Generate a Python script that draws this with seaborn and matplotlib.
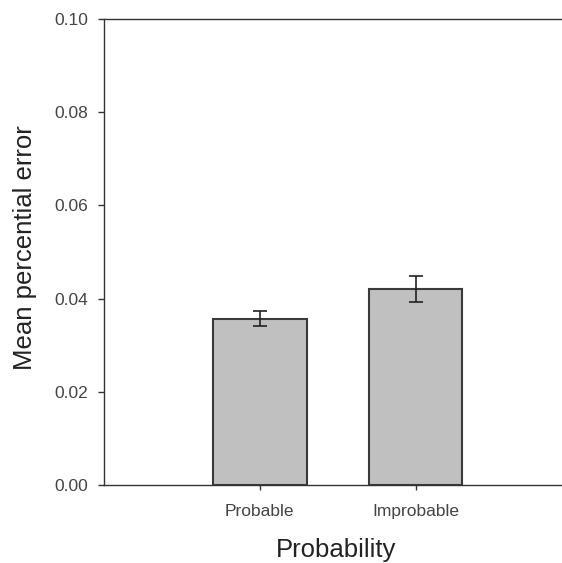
import pandas as pd
import seaborn as sns
import matplotlib.pyplot as plt

conditions = ['Probable', 'Improbable']
mean_error = [0.0357, 0.0421]
sem_error = [0.0016, 0.0028]

df = pd.DataFrame({'Probability': conditions, 'error': mean_error})

sns.set_style('white')
plt.rcParams['font.family'] = ['Liberation Sans', 'DejaVu Sans']

fig = plt.figure(figsize=(5.62, 5.63), dpi=100)
ax = fig.add_axes([104 / 562, 78 / 563, (562 - 104) / 562, (485 - 19) / 563])

sns.barplot(data=df, x='Probability', y='error', color='#c0c0c0',
            edgecolor='#3a3a3a', linewidth=1.5, width=0.6, errorbar=None,
            saturation=1, ax=ax)
ax.errorbar(range(len(conditions)), mean_error, yerr=sem_error, fmt='none',
            ecolor='#222222', elinewidth=1.2, capsize=5, capthick=1.2)

ax.set_xlim(-1, 1.94)
ax.set_ylim(0, 0.10)
ax.set_yticks([0.0, 0.02, 0.04, 0.06, 0.08, 0.10])
ax.set_yticklabels(['0.00', '0.02', '0.04', '0.06', '0.08', '0.10'])

for side in ['left', 'top', 'bottom']:
    ax.spines[side].set_visible(True)
    ax.spines[side].set_color('#333333')
    ax.spines[side].set_linewidth(1.0)
ax.spines['right'].set_visible(False)

ax.tick_params(axis='both', direction='out', width=1, color='#333333',
               labelsize=12.5, labelcolor='#444444', bottom=True, left=True)
ax.tick_params(axis='y', length=4.3, pad=7)
ax.tick_params(axis='x', length=3.5, pad=10)

ax.set_xlabel('Probability', fontsize=18.5, color='#222222')
ax.set_ylabel('Mean percential error', fontsize=18.5, color='#222222')
ax.xaxis.set_label_coords(0.507, -0.113)
ax.yaxis.set_label_coords(-0.147, 0.509)

fig.savefig('out.png', dpi=100)
